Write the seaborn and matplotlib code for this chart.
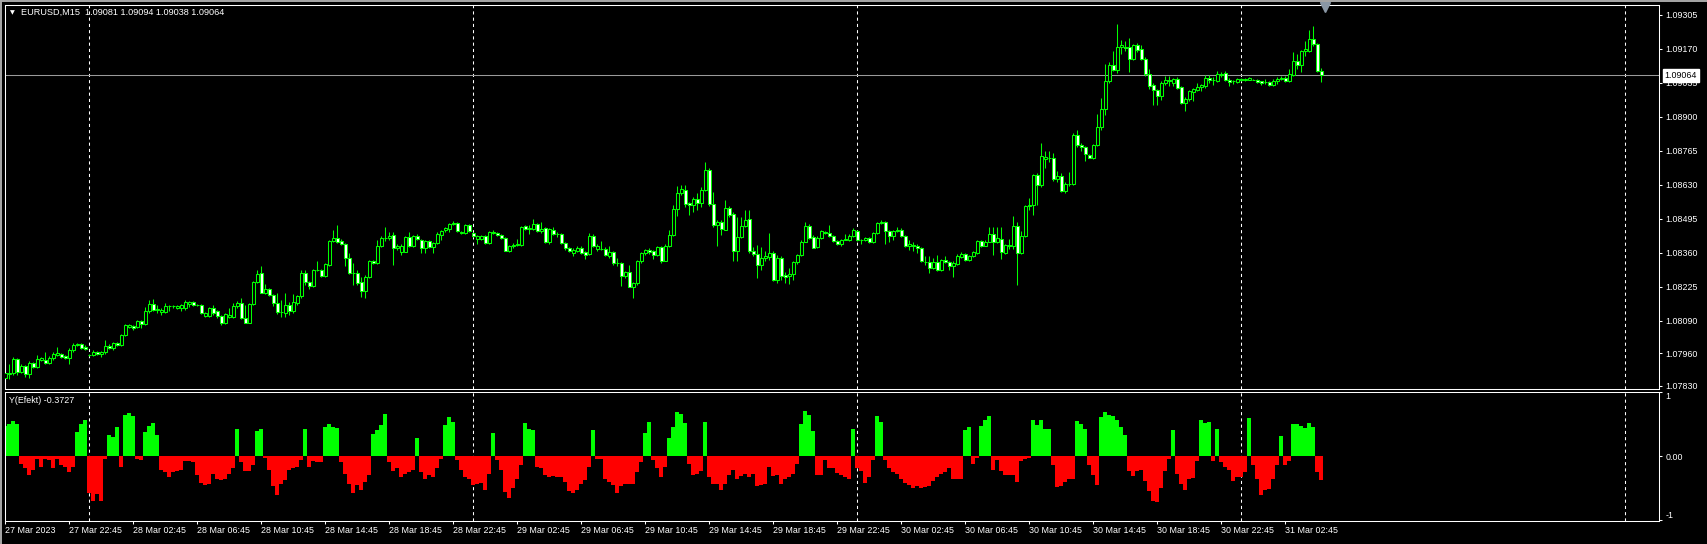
import numpy as np
import pandas as pd
import seaborn as sns
import matplotlib
matplotlib.use("Agg")
import matplotlib.pyplot as plt
import matplotlib.transforms as mtransforms
from matplotlib.lines import Line2D

# ---------------------------------------------------------------- data
symbol_label = "EURUSD,M15  1.09081 1.09094 1.09038 1.09064"
indicator_label = "Y(Efekt) -0.3727"
start_time = "2023-03-27 18:45"
last_price = 1.09064

opens = [
    1.07861, 1.07878, 1.07881, 1.07936, 1.07887, 1.07910, 1.07878, 1.07920, 1.07907, 1.07934,
    1.07934, 1.07923, 1.07940, 1.07955, 1.07957, 1.07950, 1.07940, 1.07973, 1.07991, 1.07996,
    1.07983, 1.07955, 1.07953, 1.07965, 1.07956, 1.07964, 1.07989, 1.07979, 1.08000, 1.07992,
    1.08032, 1.08066, 1.08069, 1.08063, 1.08087, 1.08077, 1.08127, 1.08155, 1.08132, 1.08122,
    1.08122, 1.08148, 1.08147, 1.08139, 1.08138, 1.08139, 1.08155, 1.08164, 1.08152, 1.08152,
    1.08109, 1.08109, 1.08139, 1.08126, 1.08106, 1.08079, 1.08102, 1.08102, 1.08148, 1.08159,
    1.08099, 1.08082, 1.08156, 1.08241, 1.08278, 1.08201, 1.08215, 1.08192, 1.08159, 1.08125,
    1.08119, 1.08152, 1.08126, 1.08159, 1.08186, 1.08278, 1.08241, 1.08228, 1.08291, 1.08291,
    1.08268, 1.08310, 1.08405, 1.08416, 1.08407, 1.08392, 1.08338, 1.08278, 1.08278, 1.08244,
    1.08209, 1.08262, 1.08326, 1.08320, 1.08387, 1.08417, 1.08416, 1.08429, 1.08379, 1.08363,
    1.08364, 1.08421, 1.08384, 1.08427, 1.08411, 1.08376, 1.08405, 1.08382, 1.08397, 1.08429,
    1.08448, 1.08453, 1.08474, 1.08477, 1.08438, 1.08437, 1.08469, 1.08437, 1.08413, 1.08413,
    1.08424, 1.08397, 1.08437, 1.08437, 1.08429, 1.08417, 1.08368, 1.08384, 1.08390, 1.08390,
    1.08464, 1.08453, 1.08453, 1.08474, 1.08444, 1.08458, 1.08400, 1.08450, 1.08432, 1.08433,
    1.08397, 1.08379, 1.08360, 1.08366, 1.08379, 1.08363, 1.08355, 1.08427, 1.08374, 1.08374,
    1.08375, 1.08347, 1.08363, 1.08318, 1.08318, 1.08265, 1.08283, 1.08225, 1.08238, 1.08325,
    1.08358, 1.08371, 1.08366, 1.08352, 1.08382, 1.08328, 1.08384, 1.08429, 1.08533, 1.08596,
    1.08609, 1.08557, 1.08548, 1.08572, 1.08557, 1.08610, 1.08689, 1.08551, 1.08469, 1.08482,
    1.08451, 1.08538, 1.08512, 1.08366, 1.08422, 1.08467, 1.08493, 1.08366, 1.08355, 1.08310,
    1.08339, 1.08342, 1.08358, 1.08249, 1.08339, 1.08270, 1.08265, 1.08273, 1.08321, 1.08350,
    1.08403, 1.08467, 1.08422, 1.08382, 1.08419, 1.08443, 1.08437, 1.08424, 1.08406, 1.08392,
    1.08411, 1.08408, 1.08427, 1.08445, 1.08410, 1.08411, 1.08419, 1.08400, 1.08437, 1.08477,
    1.08482, 1.08445, 1.08424, 1.08445, 1.08451, 1.08424, 1.08387, 1.08389, 1.08387, 1.08376,
    1.08324, 1.08323, 1.08300, 1.08321, 1.08289, 1.08331, 1.08323, 1.08305, 1.08316, 1.08342,
    1.08355, 1.08331, 1.08345, 1.08358, 1.08406, 1.08387, 1.08403, 1.08432, 1.08400, 1.08414,
    1.08360, 1.08390, 1.08384, 1.08467, 1.08358, 1.08427, 1.08546, 1.08549, 1.08668, 1.08628,
    1.08732, 1.08734, 1.08737, 1.08652, 1.08665, 1.08604, 1.08634, 1.08634, 1.08827, 1.08788,
    1.08781, 1.08748, 1.08737, 1.08788, 1.08859, 1.08931, 1.09040, 1.09103, 1.09085, 1.09177,
    1.09177, 1.09175, 1.09130, 1.09183, 1.09169, 1.09130, 1.09069, 1.09026, 1.09005, 1.08981,
    1.09032, 1.09047, 1.09032, 1.09050, 1.09016, 1.08955, 1.08968, 1.08997, 1.09005, 1.09016,
    1.09021, 1.09055, 1.09047, 1.09040, 1.09069, 1.09071, 1.09047, 1.09040, 1.09037, 1.09050,
    1.09045, 1.09047, 1.09047, 1.09047, 1.09040, 1.09037, 1.09037, 1.09026, 1.09042, 1.09050,
    1.09055, 1.09040, 1.09066, 1.09119, 1.09103, 1.09159, 1.09161, 1.09209, 1.09188, 1.09081,
]
highs = [
    1.07900, 1.07916, 1.07944, 1.07942, 1.07916, 1.07913, 1.07930, 1.07925, 1.07955, 1.07946,
    1.07964, 1.07950, 1.07965, 1.07983, 1.07962, 1.07953, 1.07980, 1.07999, 1.08000, 1.08000,
    1.07994, 1.07956, 1.07972, 1.07970, 1.07968, 1.08011, 1.07995, 1.08004, 1.08006, 1.08036,
    1.08076, 1.08075, 1.08072, 1.08094, 1.08091, 1.08145, 1.08171, 1.08175, 1.08152, 1.08140,
    1.08160, 1.08152, 1.08150, 1.08152, 1.08155, 1.08172, 1.08168, 1.08168, 1.08155, 1.08155,
    1.08124, 1.08142, 1.08150, 1.08130, 1.08110, 1.08118, 1.08141, 1.08160, 1.08168, 1.08178,
    1.08150, 1.08159, 1.08248, 1.08290, 1.08307, 1.08235, 1.08220, 1.08195, 1.08200, 1.08170,
    1.08200, 1.08165, 1.08195, 1.08191, 1.08290, 1.08290, 1.08246, 1.08296, 1.08325, 1.08295,
    1.08318, 1.08410, 1.08450, 1.08470, 1.08412, 1.08396, 1.08360, 1.08318, 1.08290, 1.08262,
    1.08270, 1.08330, 1.08330, 1.08410, 1.08425, 1.08461, 1.08440, 1.08440, 1.08392, 1.08392,
    1.08424, 1.08440, 1.08430, 1.08432, 1.08415, 1.08410, 1.08410, 1.08400, 1.08440, 1.08448,
    1.08460, 1.08478, 1.08486, 1.08481, 1.08446, 1.08472, 1.08473, 1.08441, 1.08430, 1.08428,
    1.08428, 1.08444, 1.08448, 1.08441, 1.08432, 1.08420, 1.08390, 1.08396, 1.08413, 1.08465,
    1.08468, 1.08470, 1.08494, 1.08478, 1.08480, 1.08462, 1.08457, 1.08460, 1.08440, 1.08438,
    1.08400, 1.08383, 1.08376, 1.08384, 1.08384, 1.08367, 1.08438, 1.08435, 1.08392, 1.08405,
    1.08380, 1.08386, 1.08368, 1.08340, 1.08322, 1.08287, 1.08310, 1.08242, 1.08330, 1.08364,
    1.08375, 1.08376, 1.08370, 1.08386, 1.08387, 1.08392, 1.08450, 1.08550, 1.08625, 1.08627,
    1.08630, 1.08560, 1.08580, 1.08595, 1.08620, 1.08718, 1.08695, 1.08600, 1.08490, 1.08490,
    1.08570, 1.08545, 1.08520, 1.08500, 1.08500, 1.08530, 1.08530, 1.08380, 1.08390, 1.08380,
    1.08365, 1.08437, 1.08365, 1.08352, 1.08345, 1.08282, 1.08300, 1.08328, 1.08355, 1.08408,
    1.08483, 1.08475, 1.08430, 1.08425, 1.08450, 1.08447, 1.08470, 1.08430, 1.08410, 1.08415,
    1.08435, 1.08432, 1.08456, 1.08450, 1.08415, 1.08422, 1.08423, 1.08441, 1.08481, 1.08490,
    1.08486, 1.08450, 1.08450, 1.08460, 1.08456, 1.08430, 1.08408, 1.08400, 1.08392, 1.08380,
    1.08345, 1.08345, 1.08340, 1.08350, 1.08335, 1.08345, 1.08327, 1.08325, 1.08355, 1.08362,
    1.08360, 1.08350, 1.08368, 1.08410, 1.08410, 1.08408, 1.08460, 1.08462, 1.08460, 1.08460,
    1.08395, 1.08415, 1.08505, 1.08480, 1.08445, 1.08550, 1.08578, 1.08672, 1.08675, 1.08795,
    1.08765, 1.08762, 1.08755, 1.08682, 1.08675, 1.08640, 1.08680, 1.08833, 1.08848, 1.08795,
    1.08785, 1.08752, 1.08790, 1.08912, 1.08972, 1.09107, 1.09115, 1.09160, 1.09266, 1.09206,
    1.09200, 1.09210, 1.09190, 1.09192, 1.09185, 1.09135, 1.09090, 1.09032, 1.09009, 1.09040,
    1.09063, 1.09063, 1.09055, 1.09058, 1.09020, 1.08976, 1.09004, 1.09012, 1.09032, 1.09028,
    1.09064, 1.09064, 1.09058, 1.09080, 1.09078, 1.09080, 1.09052, 1.09046, 1.09054, 1.09054,
    1.09054, 1.09058, 1.09050, 1.09050, 1.09043, 1.09048, 1.09040, 1.09050, 1.09056, 1.09063,
    1.09060, 1.09088, 1.09158, 1.09150, 1.09163, 1.09200, 1.09243, 1.09260, 1.09192, 1.09094,
]
lows = [
    1.07852, 1.07857, 1.07874, 1.07875, 1.07880, 1.07866, 1.07860, 1.07900, 1.07900, 1.07928,
    1.07918, 1.07918, 1.07935, 1.07950, 1.07940, 1.07936, 1.07918, 1.07965, 1.07988, 1.07976,
    1.07972, 1.07951, 1.07948, 1.07953, 1.07945, 1.07958, 1.07975, 1.07973, 1.07988, 1.07990,
    1.08030, 1.08062, 1.08053, 1.08060, 1.08062, 1.08074, 1.08120, 1.08126, 1.08120, 1.08110,
    1.08118, 1.08126, 1.08140, 1.08135, 1.08128, 1.08130, 1.08145, 1.08146, 1.08149, 1.08115,
    1.08104, 1.08105, 1.08110, 1.08100, 1.08072, 1.08076, 1.08098, 1.08098, 1.08140, 1.08096,
    1.08080, 1.08080, 1.08150, 1.08238, 1.08198, 1.08196, 1.08188, 1.08148, 1.08114, 1.08105,
    1.08105, 1.08110, 1.08118, 1.08152, 1.08180, 1.08230, 1.08215, 1.08222, 1.08285, 1.08262,
    1.08262, 1.08305, 1.08400, 1.08398, 1.08389, 1.08305, 1.08274, 1.08230, 1.08230, 1.08183,
    1.08180, 1.08258, 1.08315, 1.08315, 1.08380, 1.08404, 1.08410, 1.08311, 1.08370, 1.08350,
    1.08361, 1.08380, 1.08380, 1.08408, 1.08360, 1.08360, 1.08378, 1.08360, 1.08392, 1.08410,
    1.08440, 1.08440, 1.08470, 1.08440, 1.08434, 1.08433, 1.08440, 1.08420, 1.08392, 1.08410,
    1.08394, 1.08394, 1.08434, 1.08426, 1.08412, 1.08365, 1.08362, 1.08379, 1.08385, 1.08386,
    1.08450, 1.08432, 1.08450, 1.08440, 1.08438, 1.08396, 1.08395, 1.08428, 1.08420, 1.08392,
    1.08370, 1.08364, 1.08345, 1.08362, 1.08356, 1.08335, 1.08350, 1.08380, 1.08368, 1.08370,
    1.08348, 1.08340, 1.08312, 1.08305, 1.08226, 1.08260, 1.08222, 1.08180, 1.08232, 1.08318,
    1.08350, 1.08355, 1.08335, 1.08348, 1.08320, 1.08325, 1.08380, 1.08425, 1.08505, 1.08590,
    1.08540, 1.08510, 1.08520, 1.08530, 1.08540, 1.08605, 1.08545, 1.08460, 1.08387, 1.08428,
    1.08448, 1.08500, 1.08325, 1.08325, 1.08418, 1.08460, 1.08360, 1.08345, 1.08258, 1.08290,
    1.08325, 1.08330, 1.08245, 1.08240, 1.08250, 1.08240, 1.08235, 1.08252, 1.08316, 1.08346,
    1.08400, 1.08415, 1.08376, 1.08378, 1.08415, 1.08433, 1.08420, 1.08400, 1.08388, 1.08385,
    1.08408, 1.08405, 1.08423, 1.08404, 1.08395, 1.08407, 1.08397, 1.08397, 1.08432, 1.08472,
    1.08395, 1.08400, 1.08410, 1.08440, 1.08420, 1.08383, 1.08370, 1.08368, 1.08360, 1.08322,
    1.08310, 1.08278, 1.08295, 1.08285, 1.08285, 1.08318, 1.08290, 1.08262, 1.08312, 1.08338,
    1.08326, 1.08327, 1.08342, 1.08355, 1.08380, 1.08384, 1.08400, 1.08352, 1.08396, 1.08335,
    1.08355, 1.08375, 1.08375, 1.08233, 1.08354, 1.08420, 1.08530, 1.08510, 1.08550, 1.08620,
    1.08695, 1.08720, 1.08645, 1.08640, 1.08600, 1.08598, 1.08625, 1.08628, 1.08780, 1.08765,
    1.08722, 1.08734, 1.08733, 1.08784, 1.08846, 1.08905, 1.09032, 1.09080, 1.09074, 1.09150,
    1.09160, 1.09077, 1.09125, 1.09155, 1.09125, 1.09060, 1.09008, 1.08945, 1.08945, 1.08965,
    1.09027, 1.09020, 1.09020, 1.09010, 1.08948, 1.08922, 1.08962, 1.08960, 1.09000, 1.09000,
    1.09015, 1.09032, 1.09025, 1.09036, 1.09058, 1.09040, 1.09020, 1.09030, 1.09033, 1.09042,
    1.09042, 1.09044, 1.09044, 1.09033, 1.09025, 1.09030, 1.09022, 1.09022, 1.09030, 1.09046,
    1.09038, 1.09036, 1.09062, 1.09090, 1.09075, 1.09140, 1.09155, 1.09180, 1.09075, 1.09038,
]
closes = [
    1.07881, 1.07880, 1.07936, 1.07887, 1.07910, 1.07878, 1.07920, 1.07907, 1.07936, 1.07940,
    1.07923, 1.07940, 1.07957, 1.07960, 1.07947, 1.07943, 1.07973, 1.07993, 1.07996, 1.07980,
    1.07976, 1.07953, 1.07964, 1.07957, 1.07964, 1.07989, 1.07979, 1.08000, 1.07992, 1.08032,
    1.08071, 1.08071, 1.08061, 1.08087, 1.08077, 1.08127, 1.08155, 1.08131, 1.08135, 1.08132,
    1.08148, 1.08148, 1.08146, 1.08148, 1.08152, 1.08162, 1.08164, 1.08152, 1.08152, 1.08119,
    1.08119, 1.08139, 1.08119, 1.08106, 1.08082, 1.08115, 1.08113, 1.08148, 1.08159, 1.08099,
    1.08082, 1.08156, 1.08244, 1.08276, 1.08201, 1.08215, 1.08192, 1.08159, 1.08123, 1.08125,
    1.08152, 1.08126, 1.08163, 1.08188, 1.08278, 1.08241, 1.08228, 1.08291, 1.08291, 1.08268,
    1.08315, 1.08405, 1.08416, 1.08401, 1.08392, 1.08338, 1.08278, 1.08278, 1.08238, 1.08209,
    1.08262, 1.08326, 1.08320, 1.08387, 1.08417, 1.08417, 1.08427, 1.08376, 1.08384, 1.08387,
    1.08421, 1.08384, 1.08427, 1.08413, 1.08376, 1.08405, 1.08382, 1.08397, 1.08435, 1.08445,
    1.08456, 1.08474, 1.08477, 1.08444, 1.08443, 1.08469, 1.08444, 1.08424, 1.08427, 1.08424,
    1.08397, 1.08441, 1.08443, 1.08429, 1.08416, 1.08368, 1.08387, 1.08391, 1.08395, 1.08461,
    1.08453, 1.08458, 1.08474, 1.08444, 1.08454, 1.08400, 1.08453, 1.08432, 1.08435, 1.08397,
    1.08376, 1.08368, 1.08371, 1.08379, 1.08360, 1.08352, 1.08427, 1.08384, 1.08387, 1.08374,
    1.08352, 1.08363, 1.08318, 1.08318, 1.08265, 1.08283, 1.08225, 1.08238, 1.08326, 1.08358,
    1.08371, 1.08364, 1.08352, 1.08382, 1.08328, 1.08387, 1.08429, 1.08533, 1.08596, 1.08612,
    1.08551, 1.08548, 1.08572, 1.08557, 1.08610, 1.08689, 1.08551, 1.08469, 1.08482, 1.08453,
    1.08538, 1.08509, 1.08366, 1.08422, 1.08467, 1.08490, 1.08366, 1.08355, 1.08310, 1.08339,
    1.08345, 1.08358, 1.08249, 1.08339, 1.08265, 1.08263, 1.08276, 1.08323, 1.08350, 1.08403,
    1.08467, 1.08419, 1.08379, 1.08419, 1.08445, 1.08437, 1.08424, 1.08406, 1.08392, 1.08411,
    1.08415, 1.08427, 1.08451, 1.08408, 1.08411, 1.08419, 1.08400, 1.08437, 1.08477, 1.08482,
    1.08445, 1.08424, 1.08445, 1.08451, 1.08424, 1.08387, 1.08392, 1.08384, 1.08376, 1.08326,
    1.08323, 1.08300, 1.08321, 1.08289, 1.08331, 1.08321, 1.08305, 1.08318, 1.08345, 1.08355,
    1.08331, 1.08347, 1.08363, 1.08406, 1.08387, 1.08403, 1.08435, 1.08400, 1.08416, 1.08363,
    1.08390, 1.08387, 1.08467, 1.08358, 1.08427, 1.08546, 1.08549, 1.08668, 1.08628, 1.08745,
    1.08740, 1.08737, 1.08652, 1.08665, 1.08604, 1.08634, 1.08634, 1.08827, 1.08787, 1.08781,
    1.08751, 1.08737, 1.08788, 1.08859, 1.08931, 1.09042, 1.09103, 1.09085, 1.09177, 1.09183,
    1.09172, 1.09130, 1.09183, 1.09164, 1.09130, 1.09069, 1.09021, 1.09005, 1.08981, 1.09032,
    1.09047, 1.09040, 1.09050, 1.09013, 1.08952, 1.08971, 1.09000, 1.09008, 1.09016, 1.09024,
    1.09055, 1.09045, 1.09047, 1.09069, 1.09066, 1.09045, 1.09037, 1.09040, 1.09050, 1.09045,
    1.09050, 1.09053, 1.09047, 1.09037, 1.09034, 1.09037, 1.09026, 1.09042, 1.09050, 1.09055,
    1.09042, 1.09069, 1.09119, 1.09103, 1.09159, 1.09167, 1.09209, 1.09188, 1.09079, 1.09064,
]
efekt = [
    0.47, 0.505, 0.547, 0.505, -0.115, -0.19, -0.30, -0.21, -0.05, -0.16,
    -0.04, -0.06, -0.19, -0.04, -0.14, -0.16, -0.245, -0.16, 0.38, 0.51,
    0.56, -0.58, -0.70, -0.59, -0.70, -0.04, 0.33, 0.30, 0.46, -0.16,
    0.65, 0.67, 0.625, -0.04, -0.06, 0.38, 0.47, 0.52, 0.33, -0.22,
    -0.245, -0.32, -0.245, -0.23, -0.21, -0.08, -0.08, -0.09, -0.30, -0.42,
    -0.45, -0.43, -0.27, -0.36, -0.375, -0.35, -0.27, -0.18, 0.43, -0.09,
    -0.23, -0.23, -0.14, 0.40, 0.43, -0.02, -0.22, -0.47, -0.61, -0.43,
    -0.375, -0.21, -0.18, -0.16, -0.06, 0.43, -0.16, -0.07, -0.09, -0.09,
    0.46, 0.50, 0.46, 0.44, -0.09, -0.27, -0.44, -0.57, -0.45, -0.53,
    -0.40, -0.30, 0.35, 0.41, 0.49, 0.66, -0.09, -0.23, -0.18, -0.32,
    -0.27, -0.245, -0.21, 0.28, -0.245, -0.36, -0.30, -0.33, -0.18, -0.04,
    0.48, 0.61, 0.53, -0.06, -0.22, -0.33, -0.36, -0.45, -0.44, -0.42,
    -0.52, -0.27, 0.36, -0.06, -0.21, -0.56, -0.65, -0.49, -0.35, -0.14,
    0.52, 0.43, 0.41, -0.16, -0.18, -0.30, -0.33, -0.31, -0.32, -0.33,
    -0.40, -0.54, -0.57, -0.52, -0.43, -0.375, -0.16, 0.41, -0.05, -0.04,
    -0.35, -0.40, -0.45, -0.58, -0.47, -0.44, -0.43, -0.43, -0.245, -0.09,
    0.36, 0.53, -0.06, -0.19, -0.32, -0.16, 0.29, 0.46, 0.69, 0.66,
    0.52, -0.115, -0.30, -0.27, -0.23, 0.53, -0.32, -0.43, -0.44, -0.52,
    -0.44, -0.30, -0.21, -0.36, -0.31, -0.27, -0.32, -0.27, -0.47, -0.45,
    -0.44, -0.16, -0.31, -0.30, -0.44, -0.36, -0.33, -0.27, -0.115, 0.50,
    0.70, 0.64, 0.39, -0.30, -0.30, -0.06, -0.18, -0.18, -0.26, -0.30,
    -0.33, -0.36, 0.42, -0.18, -0.23, -0.42, -0.32, -0.06, 0.625, 0.54,
    -0.06, -0.19, -0.245, -0.27, -0.35, -0.42, -0.45, -0.49, -0.47, -0.50,
    -0.48, -0.46, -0.39, -0.32, -0.28, -0.245, -0.19, -0.36, -0.36, -0.36,
    0.41, 0.46, -0.125, -0.02, 0.47, 0.56, 0.625, -0.22, -0.06, -0.23,
    -0.30, -0.30, -0.30, -0.40, -0.07, -0.04, -0.02, 0.57, 0.48, 0.56,
    0.43, 0.43, -0.14, -0.48, -0.47, -0.40, -0.36, -0.36, 0.55, 0.50,
    0.43, -0.14, -0.30, -0.45, 0.61, 0.69, 0.65, 0.625, 0.57, 0.46,
    0.33, -0.23, -0.31, -0.23, -0.21, -0.385, -0.54, -0.70, -0.71, -0.50,
    -0.23, -0.05, 0.41, -0.28, -0.44, -0.53, -0.36, -0.34, -0.07, 0.56,
    0.52, 0.53, -0.07, 0.42, -0.09, -0.16, -0.22, -0.385, -0.32, -0.32,
    -0.245, 0.59, -0.14, -0.36, -0.61, -0.53, -0.505, -0.36, -0.14, 0.31,
    -0.14, -0.07, 0.505, 0.50, 0.47, 0.44, 0.52, 0.45, -0.245, -0.3727,
]

price_ticks = [1.09305, 1.09170, 1.09035, 1.08900, 1.08765, 1.08630,
               1.08495, 1.08360, 1.08225, 1.08090, 1.07960, 1.07830]
time_labels = ["27 Mar 2023", "27 Mar 22:45", "28 Mar 02:45", "28 Mar 06:45",
               "28 Mar 10:45", "28 Mar 14:45", "28 Mar 18:45", "28 Mar 22:45",
               "29 Mar 02:45", "29 Mar 06:45", "29 Mar 10:45", "29 Mar 14:45",
               "29 Mar 18:45", "29 Mar 22:45", "30 Mar 02:45", "30 Mar 06:45",
               "30 Mar 10:45", "30 Mar 14:45", "30 Mar 18:45", "30 Mar 22:45",
               "31 Mar 02:45"]
day_breaks = ["2023-03-28", "2023-03-29", "2023-03-30", "2023-03-31", "2023-04-01"]

# ---------------------------------------------------------------- style
LIME = "#00ff00"
RED = "#ff0000"
sns.set_style("ticks", {"axes.facecolor": "black", "figure.facecolor": "black",
                        "axes.edgecolor": "white", "xtick.color": "white",
                        "ytick.color": "white", "text.color": "white",
                        "axes.labelcolor": "white", "axes.grid": False})
plt.rcParams["font.family"] = ["Liberation Sans", "DejaVu Sans"]
plt.rcParams["axes.linewidth"] = 0.75
FS = 6.4

W, H = 1707, 544
def px_box(l, t, r, b):
    return [l / W, 1 - b / H, (r - l) / W, (b - t) / H]

fig = plt.figure(figsize=(W / 100, H / 100), dpi=100)
ax = fig.add_axes(px_box(4.5, 4.5, 1659, 389))
ax2 = fig.add_axes(px_box(4.5, 391.5, 1659, 521), sharex=ax)

n = len(closes)
x = np.arange(n)
o = np.array(opens)
c = np.array(closes)
hi = np.array(highs)
lo = np.array(lows)
bars = pd.date_range(start_time, periods=n, freq="15min")
step = bars[1] - bars[0]
day_pos = [(pd.Timestamp(d) - bars[0]) / step for d in day_breaks]

############################### price panel ##################################
for d in day_pos:
    ax.axvline(d, color="white", lw=0.75, ls=(0, (3, 3)), zorder=0.5)
ax.axhline(last_price, color="#9a9a9a", lw=0.75, zorder=0.8)

ax.vlines(x, lo, hi, color=LIME, lw=0.75, zorder=2)
bull = c >= o
ax.bar(x[bull], (c - o)[bull], bottom=o[bull], width=0.6, color="black",
       edgecolor=LIME, linewidth=0.75, zorder=3)
ax.bar(x[~bull], (o - c)[~bull], bottom=c[~bull], width=0.6, color="white",
       edgecolor=LIME, linewidth=0.75, zorder=3)

ax.set_ylim(1.07818, 1.09345)
ax.yaxis.tick_right()
ax.set_yticks(price_ticks)
ax.set_yticklabels([f"{p:.5f}" for p in price_ticks])
ax.tick_params(axis="y", length=2.2, width=0.75, pad=2.5, labelsize=FS, colors="white")
ax.tick_params(axis="x", bottom=False, labelbottom=False)

ax.text(1.0, last_price, f"{last_price:.5f}", transform=ax.get_yaxis_transform(),
        ha="left", va="center", color="black", fontsize=FS, clip_on=False, zorder=6,
        bbox=dict(boxstyle="square,pad=0.22", fc="white", ec="white"))
# small gap between spine and the price tag
for t in ax.texts:
    t.set_position((1.0035, last_price))

shift_tf = mtransforms.blended_transform_factory(ax.transData, ax.transAxes)
ax.plot([n], [0.9935], marker="v", ms=6.5, color="#8a97a5", transform=shift_tf,
        clip_on=False, zorder=6)

############################### indicator panel ##############################
hist_df = pd.DataFrame({"bar": x, "value": efekt})
hist_df["sign"] = np.where(hist_df["value"] >= 0, "up", "down")
for d in day_pos:
    ax2.axvline(d, color="white", lw=0.75, ls=(0, (3, 3)), zorder=0.5)
sns.barplot(data=hist_df, x="bar", y="value", hue="sign",
            palette={"up": LIME, "down": RED}, native_scale=True, width=1.0,
            dodge=False, saturation=1, errorbar=None, legend=False,
            linewidth=0, edgecolor="none", ax=ax2, zorder=2)
ax2.set_xlabel("")
ax2.set_ylabel("")
ax2.set_ylim(-1.01, 1.01)
ax2.yaxis.tick_right()
ax2.set_yticks([1, 0, -1])
ax2.set_yticklabels(["1", "0.00", "-1"])
ax2.tick_params(axis="y", length=2.2, width=0.75, pad=2.5, labelsize=FS, colors="white")
ylabels = ax2.get_yticklabels()
ylabels[0].set_va("top")
ylabels[2].set_va("bottom")

ax2.set_xticks(np.arange(len(time_labels)) * 16)
ax2.set_xticklabels(time_labels, ha="left")
ax2.tick_params(axis="x", length=2.2, width=0.75, pad=1.5, labelsize=FS, colors="white")
ax2.set_xlim(-0.25, 413.4)

for a in (ax, ax2):
    for s in a.spines.values():
        s.set_color("white")
        s.set_linewidth(0.75)

############################### labels / frame ###############################
fig.text(20.7 / W, 1 - 12.7 / H, symbol_label, color="white", fontsize=6.6,
         ha="left", va="center")
fig.text(12 / W, 1 - 12.5 / H, "\u25bc", color="white", fontsize=4.5,
         family="DejaVu Sans", ha="center", va="center")
fig.text(9.2 / W, 1 - 400.7 / H, indicator_label, color="white", fontsize=6.4,
         ha="left", va="center")

fig.add_artist(Line2D([0, 1], [1 - 0.8 / H] * 2, transform=fig.transFigure,
                      color="#a8a8a8", lw=1.4))
fig.add_artist(Line2D([0.8 / W] * 2, [0, 1], transform=fig.transFigure,
                      color="#a8a8a8", lw=1.4))

plt.savefig("out.png", dpi=100, facecolor="black")
